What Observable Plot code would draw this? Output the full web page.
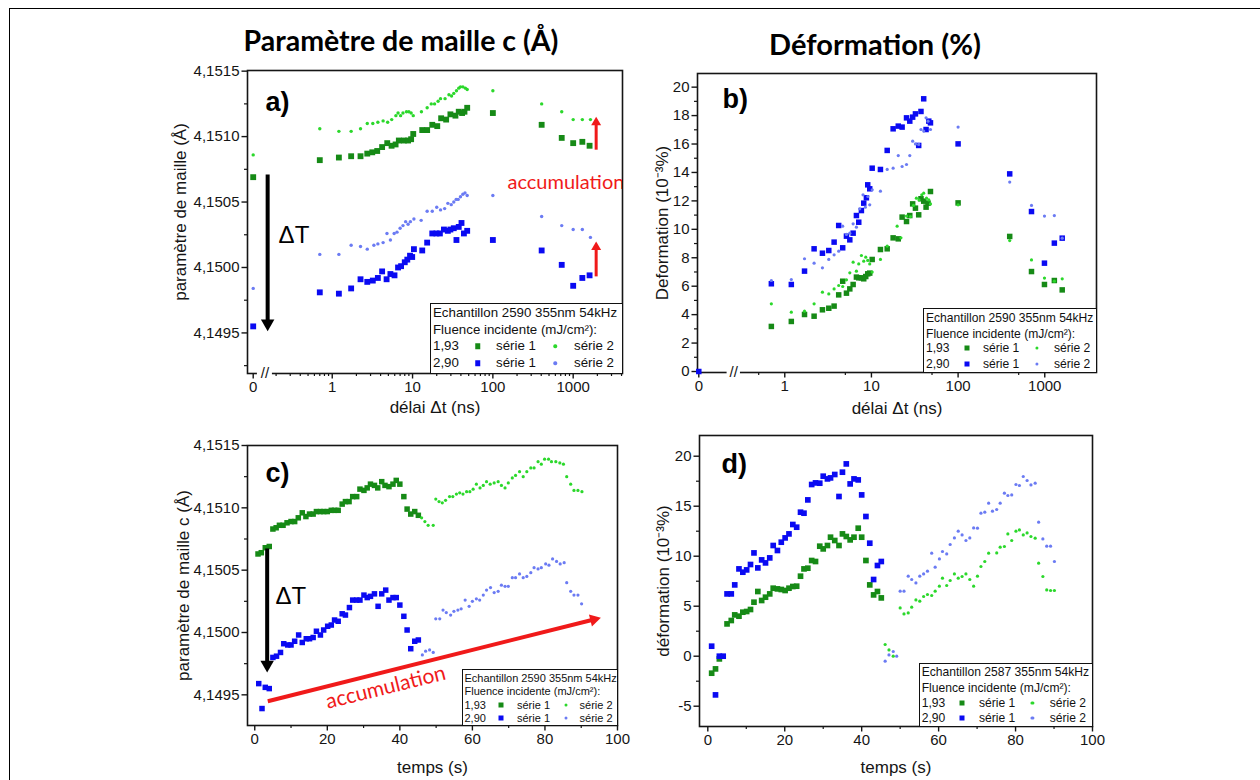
<!DOCTYPE html>
<html><head><meta charset="utf-8">
<script src="https://cdn.jsdelivr.net/npm/d3@7"></script>
<script src="https://cdn.jsdelivr.net/npm/@observablehq/plot@0.6"></script>
<style>
body{margin:0;background:#fff;}
#root{position:relative;width:1260px;height:780px;overflow:hidden;background:#fff;font-family:"Liberation Sans",Arial,sans-serif;}
.title{position:absolute;font-family:Lato,"Open Sans",sans-serif;font-weight:bold;color:#000;white-space:nowrap;transform:translate(-50%,-50%);line-height:1;}
.legend{position:absolute;background:#fff;border:1px solid #111;box-sizing:border-box;color:#111;}
.legend span{position:absolute;white-space:nowrap;transform:translateY(-50%);line-height:1;}
.legend i{position:absolute;transform:translate(-50%,-50%);display:block;}
</style></head>
<body><div id="root"></div>
<script>
// ---------------- texts ----------------
const titleLeft = "Paramètre de maille c (Å)";
const titleRight = "Déformation (%)";
const sampleABC = "Echantillon 2590 355nm 54kHz";
const sampleD = "Echantillon 2587 355nm 54kHz";
const legendSub = "Fluence incidente (mJ/cm²):";
const fluences = ["1,93", "2,90"];
const seriesNames = ["série 1", "série 2"];

// ---------------- panel a : c vs delay (ns) ----------------
const aG1Delay = [0,0.70,1.21,1.72,2.25,2.73,3.15,3.63,4.18,4.84,5.48,6.15,6.75,7.8,8.8,9.6,10.2,13.2,15.2,17.6,20.3,22.7,26.2,29.6,34.2,37.6,41.4,44.3,47.9,100,405,720,1000,1300,1600];
const aG1C = [4.15069,4.15082,4.15084,4.15085,4.15085,4.15087,4.15088,4.15089,4.15092,4.15095,4.15093,4.15094,4.15097,4.15097,4.15097,4.15098,4.15102,4.15105,4.15105,4.15109,4.15108,4.15114,4.15113,4.15117,4.15116,4.15119,4.15118,4.15119,4.15122,4.15118,4.15109,4.15099,4.15095,4.15096,4.15093];
const aG2Delay = [0,0.70,1.21,1.72,2.25,2.73,3.2,3.7,4.3,4.9,5.5,6.2,6.6,7.1,7.6,8.4,9.0,9.6,10.2,12.9,15.2,17.1,18.8,20.8,22.3,25.4,28.4,30.6,32.6,35.2,37.6,39.5,42.3,45.5,47.9,100,405,720,1000,1300,1640];
const aG2C = [4.15086,4.15106,4.15104,4.15104,4.15106,4.15110,4.15110,4.15111,4.15112,4.15111,4.15113,4.15116,4.15118,4.15116,4.15118,4.15119,4.15119,4.15118,4.15116,4.15119,4.15122,4.15125,4.15125,4.15127,4.15129,4.15129,4.15132,4.15131,4.15133,4.15135,4.15137,4.15138,4.15138,4.15137,4.15136,4.15135,4.15125,4.15119,4.15113,4.15113,4.15113];
const aB1Delay = [0,0.70,1.21,1.72,2.25,2.73,3.2,3.7,4.18,4.75,5.3,5.96,6.6,7.2,8.0,8.6,9.3,9.9,10.4,13.2,15.2,17.6,19.8,21.9,24.6,27.5,29.6,32.6,35.2,37.6,40.7,43.6,47.9,100,405,720,1000,1300,1600];
const aB1C = [4.14955,4.14981,4.14980,4.14984,4.14991,4.14989,4.14990,4.14992,4.14997,4.14991,4.14995,4.14994,4.15000,4.15001,4.15004,4.15006,4.15009,4.15008,4.15014,4.15013,4.15019,4.15026,4.15026,4.15026,4.15029,4.15028,4.15029,4.15030,4.15021,4.15031,4.15034,4.15026,4.15028,4.15021,4.15013,4.15002,4.14986,4.14992,4.14994];
const aB2Delay = [0,0.70,1.21,1.72,2.25,2.73,3.3,3.7,4.3,4.8,5.3,5.9,6.4,7.0,7.6,8.2,8.8,9.4,10.4,12.8,15.2,17.6,20.0,22.3,25.1,27.5,30.3,32.6,34.9,37.0,39.5,42.3,45,47.9,100,405,720,1000,1300,1640];
const aB2C = [4.14984,4.15010,4.15010,4.15017,4.15016,4.15014,4.15017,4.15018,4.15019,4.15026,4.15021,4.15026,4.15027,4.15030,4.15032,4.15035,4.15033,4.15035,4.15037,4.15036,4.15043,4.15043,4.15046,4.15044,4.15045,4.15049,4.15048,4.15050,4.15052,4.15052,4.15054,4.15056,4.15057,4.15055,4.15055,4.15039,4.15032,4.15029,4.15029,4.15023];

// ---------------- panel b : strain vs delay ----------------
const bB1Delay = [0,0.70,1.19,1.69,2.18,2.72,3.22,3.71,4.19,4.66,5.15,5.63,6.15,6.71,7.14,7.66,8.15,8.75,9.06,9.56,10.2,12.7,15.2,17.8,20.4,22.6,25.4,27.7,29.9,32.2,35.1,37.3,40.1,42.7,45.9,48.0,100,394,703,992,1290,1590];
const bB1 = [0,6.17,6.12,7.06,8.63,8.32,8.51,9.10,10.27,8.70,9.52,9.26,9.73,10.97,10.50,11.32,11.84,12.22,13.13,12.85,14.30,14.21,15.55,17.07,17.26,17.19,17.84,17.61,17.89,18.12,15.90,18.29,19.18,17.02,17.61,17.49,16.01,13.90,11.25,7.62,9.03,9.38];
const bB2Delay = [0.70,1.19,1.69,2.18,2.72,3.22,3.71,4.19,4.66,5.15,5.63,6.15,6.71,7.33,8.0,8.5,9.1,9.56,10.2,12.7,15.2,17.8,20.4,22.6,25.4,27.7,29.9,32.2,35.1,37.3,40.1,42.7,45,48.0,100,394,703,992,1290,1590];
const bB2 = [6.40,6.47,7.93,7.62,7.29,7.88,8.21,8.46,10.22,9.64,9.73,10.39,10.15,11.44,12.43,11.56,12.31,11.72,12.78,12.68,14.21,14.30,15.19,14.42,14.56,15.19,16.20,16.01,15.97,17.02,16.91,17.84,17.61,17.02,17.19,13.32,11.68,10.93,10.97,9.38];
const bG1Delay = [0.70,1.19,1.69,2.18,2.72,3.22,3.71,4.19,4.66,5.15,5.63,6.15,6.71,7.14,7.66,8.15,8.6,9.06,9.56,10.2,12.7,15.2,17.8,20.4,22.6,25.4,27.7,29.9,32.2,35.1,37.3,40.1,42.7,45,48.0,100,394,703,992,1290,1590];
const bG1 = [3.17,3.52,4.01,3.89,4.34,4.45,4.60,5.39,6.35,5.51,5.81,6.12,6.64,6.59,6.59,6.52,6.68,6.87,6.92,7.88,8.58,8.63,9.40,9.33,10.86,10.55,10.97,11.79,11.49,11.02,12.15,11.98,11.56,11.84,12.66,11.86,9.50,7.03,6.12,6.40,5.74];
const bG2Delay = [0.70,1.19,1.69,2.18,2.72,3.22,3.71,4.19,4.66,5.15,5.63,6.15,6.71,7.14,7.66,8.15,8.6,9.06,9.56,10.2,12.7,15.2,19.8,21.9,25.4,28.2,30.6,33,35.4,38.1,40.1,43.2,45.9,48,100,394,703,992,1290,1590];
const bG2 = [4.76,4.17,4.24,4.76,5.58,5.46,5.81,6.05,5.98,6.45,6.94,7.69,7.06,7.57,8.16,7.76,8.04,7.81,7.57,6.99,7.88,8.82,10.22,9.40,10.93,10.90,11.68,12.19,12.07,12.43,12.54,12.19,12.07,11.79,11.72,9.21,7.85,6.57,6.35,6.52];

// ---------------- panel c : c vs time (s) ----------------
const cG1Time = [0.9,1.8,2.9,4.0,5.0,5.9,6.8,7.8,8.9,10.0,11.0,12.0,13.1,14.1,15.1,16.1,17.0,18.1,19.0,20.0,21.1,22.0,23.0,24.1,25.0,26.0,27.0,28.1,29.0,30.1,31.0,31.9,33.0,33.9,35.0,35.9,37.0,38.1,39.0,40.0,41.1,42.0,43.0,44.1,45.1];
const cG1C = [4.15063,4.15064,4.15068,4.15069,4.15083,4.15084,4.15086,4.15086,4.15088,4.15089,4.15089,4.15092,4.15096,4.15093,4.15095,4.15095,4.15097,4.15097,4.15097,4.15097,4.15098,4.15098,4.15098,4.15103,4.15105,4.15105,4.15109,4.15109,4.15115,4.15114,4.15116,4.15119,4.15118,4.15116,4.15121,4.15118,4.15117,4.15119,4.15122,4.15119,4.15109,4.15099,4.15095,4.15097,4.15094];
const cG2Time = [46.0,46.9,47.8,49.2,49.9,50.8,51.7,52.6,53.7,54.6,55.6,56.5,57.4,58.4,59.3,60.2,61.1,62.1,63.0,63.9,64.9,66.0,67.1,68.0,69.0,69.9,71.0,71.9,73.0,74.0,75.0,76.1,77.0,78.1,79.0,79.9,81.0,81.8,83.0,84.1,85.1,86.0,87.1,88.0,89.1,90.2];
const cG2C = [4.15092,4.15089,4.15086,4.15086,4.15107,4.15105,4.15104,4.15106,4.15109,4.15109,4.15111,4.15112,4.15111,4.15113,4.15113,4.15115,4.15119,4.15116,4.15118,4.15121,4.15119,4.15120,4.15121,4.15118,4.15116,4.15120,4.15124,4.15126,4.15129,4.15125,4.15129,4.15132,4.15132,4.15137,4.15135,4.15139,4.15139,4.15137,4.15137,4.15136,4.15135,4.15125,4.15119,4.15114,4.15114,4.15113];
const cB1Time = [1.1,2.0,2.9,4.0,5.0,6.0,7.1,8.0,9.1,10.0,11.0,12.1,13.1,14.2,15.1,16.1,17.0,18.1,19.0,20.1,21.1,22.0,23.0,24.1,25.0,26.1,27.0,28.1,29.0,30.1,31.0,31.9,33.0,34.0,35.0,36.1,37.0,38.1,39.0,40.0,41.1,42.0,43.0,44.1,45.1];
const cB1C = [4.14959,4.14939,4.14956,4.14955,4.14980,4.14981,4.14984,4.14991,4.14990,4.14990,4.14993,4.14998,4.14992,4.14995,4.14995,4.14996,4.15001,4.14998,4.15002,4.15005,4.15006,4.15010,4.15009,4.15015,4.15014,4.15020,4.15026,4.15026,4.15026,4.15030,4.15028,4.15029,4.15031,4.15021,4.15031,4.15034,4.15026,4.15028,4.15028,4.15022,4.15013,4.15002,4.14987,4.14993,4.14994];
const cB2Time = [46.2,47.1,48.2,49.2,49.9,51.0,51.9,52.8,54.0,54.9,56.0,56.9,58.0,59.1,60.0,61.1,62.0,63.0,63.9,65.0,66.0,67.1,68.0,69.0,69.9,71.0,71.9,73.0,74.0,75.0,76.1,77.0,78.1,79.0,80.2,81.1,82.1,83.2,84.2,85.3,86.0,87.1,88.0,89.1,90.1];
const cB2C = [4.14982,4.14985,4.14986,4.14984,4.15011,4.15011,4.15018,4.15016,4.15014,4.15017,4.15018,4.15019,4.15026,4.15021,4.15025,4.15027,4.15026,4.15030,4.15034,4.15036,4.15032,4.15033,4.15038,4.15037,4.15037,4.15044,4.15044,4.15047,4.15044,4.15045,4.15048,4.15052,4.15051,4.15052,4.15055,4.15054,4.15059,4.15057,4.15055,4.15056,4.15040,4.15033,4.15030,4.15030,4.15023];

// ---------------- panel d : strain vs time ----------------
const dB1Time = [1.0,2.0,3.0,4.0,5.0,6.1,7.0,8.1,9.1,10.1,11.1,12.0,13.0,14.0,15.0,16.1,17.0,18.1,19.1,20.1,21.1,22.1,23.1,24.1,25.0,26.0,27.0,28.0,29.1,30.0,31.1,31.9,33.0,34.1,35.0,36.0,37.0,38.0,39.1,40.0,41.1,42.1,43.1,44.1,45.1];
const dB1 = [1.0,-3.87,0.0,0.0,6.23,6.23,7.13,8.73,8.4,8.63,9.17,10.33,8.83,9.63,9.33,9.83,11.07,10.57,11.4,11.83,12.23,13.17,12.9,14.4,14.3,15.63,17.17,17.33,17.3,18.0,17.73,17.83,18.17,15.97,18.4,19.23,17.23,17.73,17.63,16.13,13.97,11.3,7.67,9.07,9.47];
const dG1Time = [1.0,2.0,3.0,5.0,6.1,7.0,8.1,9.1,10.1,11.1,12.0,13.0,14.0,15.0,16.1,17.0,18.1,19.1,20.1,21.1,22.1,23.1,24.1,25.0,26.0,27.0,28.0,29.1,30.0,31.1,31.9,33.0,34.1,35.0,36.0,37.0,38.0,39.1,40.0,41.1,42.1,43.1,44.1,45.1];
const dG1 = [-1.7,-1.27,-0.27,3.23,3.57,4.13,4.0,4.4,4.47,4.67,5.4,6.47,5.57,5.9,6.23,6.8,6.73,6.67,6.57,6.8,6.97,7.0,8.0,8.73,8.8,9.57,9.47,11.0,10.73,11.07,11.9,11.57,11.07,12.23,11.97,11.63,11.9,12.8,11.9,9.57,7.13,6.13,6.47,5.83];
const dG2Time = [46.1,47.1,48.2,50.0,51.0,52.1,53.0,54.1,55.1,56.1,57.1,58.2,59.1,60.2,61.0,62.1,63.0,64.1,65.1,66.1,67.1,68.1,69.1,70.1,71.0,72.0,73.0,75.1,76.0,77.1,78.0,79.0,80.1,81.0,82.0,83.0,84.0,85.1,86.0,87.1,88.1,89.1,90.1];
const dG2 = [1.17,0.63,0.0,4.83,4.23,4.33,4.9,5.63,5.5,5.97,6.17,6.07,6.5,7.0,7.8,7.07,7.57,8.23,7.8,7.97,8.23,7.67,7.0,8.0,8.97,9.47,10.3,10.33,10.9,10.97,12.23,11.57,12.5,12.63,12.13,12.33,11.97,11.8,9.3,7.97,6.63,6.57,6.57];
const dB2Time = [46.1,47.1,48.2,49.1,50.0,51.0,52.1,53.0,54.1,55.1,56.1,57.1,58.2,59.1,60.2,61.0,62.1,63.0,64.1,65.1,66.1,67.1,68.1,69.1,70.1,71.0,72.0,73.0,74.0,75.1,76.0,77.1,78.0,79.0,80.1,81.0,82.0,83.0,84.0,85.1,86.0,87.1,88.1,89.1,90.1];
const dB2 = [-0.5,0.13,0.47,0.0,6.5,6.5,8.0,7.67,7.33,8.0,8.23,8.5,10.3,8.9,9.73,10.47,10.23,11.17,11.83,12.5,12.13,11.57,11.83,12.83,12.8,14.3,14.4,15.3,14.5,14.67,15.3,16.3,16.07,16.13,17.17,17.07,17.97,17.57,17.13,17.3,13.4,11.73,11.0,11.0,9.47];

// ---------------- ticks ----------------
const delayTicks = [0, 1, 10, 100, 1000];
const delayTickLabels = ["0", "1", "10", "100", "1000"];
const aDelayMinor = [0.2,0.3,0.4,0.5,0.6,0.7,0.8,0.9,2,3,4,5,6,7,8,9,20,30,40,50,60,70,80,90,200,300,400,500,600,700,800,900,2000,3000,4000];
const bDelayMinor = [0.5, 5, 50, 500];
const cTicks = [4.1495, 4.1500, 4.1505, 4.1510, 4.1515];
const cMinorA = [4.14925, 4.14975, 4.15025, 4.15075, 4.15125];
const cMinorC = [4.14975, 4.15025, 4.15075, 4.15125];
const bTicks = [0,2,4,6,8,10,12,14,16,18,20];
const bMinor = [1,3,5,7,9,11,13,15,17,19];
const dTicks = [-5,0,5,10,15,20];
const dMinor = [-2.5,2.5,7.5,12.5,17.5];
const timeTicks = [0,20,40,60,80,100];
const timeMinor = [10,30,50,70,90];

// ---------------- annotations (data units) ----------------
const aDeltaArrow = [{delay: 0.157, from: 4.15071, to: 4.149572}];
const aAccArrows = [{delay: 1932, from: 4.15090, to: 4.151108}, {delay: 1932, from: 4.149932, to: 4.150155}];
const aDeltaText = [{delay: 0.215, c: 4.150245}];
const aAccText = [{delay: 152, c: 4.150652}];
const cDeltaArrow = [{t: 3.42, from: 4.150674, to: 4.149742}];
const cDeltaText = [{t: 5.7, c: 4.150289}];
const cAccArrow = [{t1: 3.59, c1: 4.149449, t2: 93.5, c2: 4.150104}];
const cAccText = [{t: 36.1, c: 4.149559}];

// ---------------- style ----------------
const COL = {g1: "#168a16", g2: "#2bd82b", b1: "#0a0af2", b2: "#6b7bf3"};
const RED = "#f01a1a";
const INK = "#151515";
const FONT = '"Liberation Sans", Arial, sans-serif';
const root = document.getElementById("root");
const zip = (xs, ys) => xs.map((x, i) => ({x, y: ys[i]}));

// broken log axis: 0 shown left of the break
const posA = d => d === 0 ? -0.984 : Math.log10(d);
const posB = d => d === 0 ? -0.992 : Math.log10(d);
const cFmt = d => d.toFixed(4).replace(".", ",");

// page frame + titles
const fr = document.createElement("div");
Object.assign(fr.style, {position: "absolute", left: "9px", top: "8px", width: "1400px", height: "900px", borderLeft: "1.5px solid #000", borderTop: "1.5px solid #000"});
root.appendChild(fr);
function addTitle(txt, cx, cy, fs) {
  const t = document.createElement("div");
  t.className = "title"; t.textContent = txt;
  Object.assign(t.style, {left: cx + "px", top: cy + "px", fontSize: fs + "px"});
  root.appendChild(t);
}
addTitle(titleLeft, 401, 40, 28.5);
addTitle(titleRight, 875, 43, 29);

function seriesMarks(xf, list) {
  return list.map(s => Plot.dot(s.data, {
    x: d => xf(d.x), y: "y", symbol: s.sq ? "square" : "circle", r: s.r, fill: s.color
  }));
}

function addPanel(p) {
  const [L, T, R, B] = p.frame;
  const mL = 110, mT = 16, mR = 16, mB = 60;
  const W = R - L, H = B - T;
  const [x0, x1] = p.xDomain, [y0, y1] = p.yDomain;
  const xpp = (x1 - x0) / W, ypp = (y1 - y0) / H;
  const xLab = new Map(p.xTicks.map((t, i) => [t, p.xTickLabels[i]]));
  const marks = [
    Plot.ruleX(p.xMinor, {x: d => d, y1: () => y0, y2: () => y0 - 3 * ypp, stroke: INK, strokeWidth: 1.2}),
    Plot.ruleX(p.xTicks, {x: d => d, y1: () => y0, y2: () => y0 - 5.5 * ypp, stroke: INK, strokeWidth: 1.4}),
    Plot.ruleY(p.yMinor, {y: d => d, x1: () => x0, x2: () => x0 - 3 * xpp, stroke: INK, strokeWidth: 1.2}),
    Plot.ruleY(p.yTicks, {y: d => d, x1: () => x0, x2: () => x0 - 5.5 * xpp, stroke: INK, strokeWidth: 1.4}),
    Plot.frame({stroke: INK, strokeWidth: 1.6})
  ];
  if (p.brk) {
    marks.push(Plot.ruleY([{y: y0, a: p.brk[0], b: p.brk[1]}], {y: "y", x1: "a", x2: "b", stroke: "white", strokeWidth: 5}));
    marks.push(Plot.text([{x: (p.brk[0] + p.brk[1]) / 2, y: y0, t: "//"}], {x: "x", y: "y", text: "t", fontSize: 15, fill: INK, lineAnchor: "middle"}));
  }
  marks.push(...p.marks);
  marks.push(Plot.text([p.xLabel], {frameAnchor: "bottom", dy: p.xLabelDy, text: d => d, fontSize: 17, fill: INK, textAnchor: "middle", lineAnchor: "middle"}));
  marks.push(Plot.text([p.yLabel], {frameAnchor: "left", dx: p.yLabelDx, dy: p.yLabelDy || 0, rotate: -90, text: d => d, fontSize: 17, fill: INK, textAnchor: "middle", lineAnchor: "middle"}));
  marks.push(Plot.text([p.tag], {frameAnchor: "top-left", dx: p.tagDx, dy: p.tagDy, text: d => d, fontSize: 27, fontWeight: "bold", fill: "#000", textAnchor: "start", lineAnchor: "middle"}));
  const svg = Plot.plot({
    width: W + mL + mR, height: H + mT + mB,
    marginLeft: mL, marginRight: mR, marginTop: mT, marginBottom: mB,
    style: {background: "none", fontFamily: FONT, fontSize: "15px", color: INK, overflow: "visible"},
    x: {domain: p.xDomain, ticks: p.xTicks, tickFormat: t => xLab.has(t) ? xLab.get(t) : "", tickSize: 0, tickPadding: 8, label: null},
    y: {domain: p.yDomain, ticks: p.yTicks, tickFormat: p.yFmt, tickSize: 0, tickPadding: 8, label: null},
    marks
  });
  svg.style.position = "absolute";
  svg.style.left = (L - mL) + "px";
  svg.style.top = (T - mT) + "px";
  root.appendChild(svg);
}

function addLegend(l) {
  const box = document.createElement("div");
  box.className = "legend";
  Object.assign(box.style, {left: l.left + "px", top: l.top + "px", width: l.w + "px", height: l.h + "px", fontSize: l.fs + "px"});
  const span = (txt, x, y) => {
    const s = document.createElement("span");
    s.textContent = txt; s.style.left = x + "px"; s.style.top = y + "px";
    box.appendChild(s);
  };
  const mark = (x, y, c, size, round) => {
    const m = document.createElement("i");
    Object.assign(m.style, {left: x + "px", top: y + "px", width: size + "px", height: size + "px", background: c, borderRadius: round ? "50%" : "0"});
    box.appendChild(m);
  };
  span(l.title, l.cols[0], l.rows[0]);
  span(legendSub, l.cols[0], l.rows[1]);
  [[COL.g1, COL.g2], [COL.b1, COL.b2]].forEach(([c1, c2], k) => {
    const y = l.rows[2 + k];
    span(fluences[k], l.cols[0], y);
    mark(l.cols[1], y, c1, l.sq, false);
    span(seriesNames[0], l.cols[2], y);
    mark(l.cols[3], y, c2, l.dot, true);
    span(seriesNames[1], l.cols[4], y);
  });
  root.appendChild(box);
}

// ---------- panel a ----------
addPanel({
  frame: [247, 70, 622, 373],
  xDomain: [-1.055, 3.614], yDomain: [4.14919, 4.151505],
  xTicks: delayTicks.map(posA), xTickLabels: delayTickLabels, xMinor: aDelayMinor.map(posA),
  yTicks: cTicks, yFmt: cFmt, yMinor: cMinorA,
  brk: [posA(0.117), posA(0.18)],
  xLabel: "délai Δt (ns)", xLabelDy: 34,
  yLabel: "paramètre de maille (Å)", yLabelDx: -67, yLabelDy: -10,
  tag: "a)", tagDx: 18, tagDy: 32,
  marks: [
    ...seriesMarks(posA, [
      {data: zip(aG1Delay, aG1C), sq: true, r: 3.3, color: COL.g1},
      {data: zip(aG2Delay, aG2C), sq: false, r: 1.7, color: COL.g2},
      {data: zip(aB1Delay, aB1C), sq: true, r: 3.3, color: COL.b1},
      {data: zip(aB2Delay, aB2C), sq: false, r: 1.7, color: COL.b2}
    ]),
    Plot.link(aDeltaArrow, {x1: d => posA(d.delay), x2: d => posA(d.delay), y1: "from", y2: "to", stroke: "#000", strokeWidth: 4}),
    Plot.dot(aDeltaArrow, {x: d => posA(d.delay), y: "to", symbol: "triangle", r: 5, fill: "#000", rotate: 180}),
    Plot.link(aAccArrows, {x1: d => posA(d.delay), x2: d => posA(d.delay), y1: "from", y2: "to", stroke: RED, strokeWidth: 3}),
    Plot.dot(aAccArrows, {x: d => posA(d.delay), y: "to", symbol: "triangle", r: 3.7, fill: RED}),
    Plot.text(aDeltaText, {x: d => posA(d.delay), y: "c", text: () => "ΔT", fontSize: 24, fill: "#000", textAnchor: "start", lineAnchor: "middle"}),
    Plot.text(aAccText, {x: d => posA(d.delay), y: "c", text: () => "accumulation", fontSize: 20, fontFamily: 'Lato, "Open Sans", sans-serif', fill: RED, textAnchor: "start", lineAnchor: "middle", clip: true})
  ]
});
addLegend({left: 430, top: 303, w: 193, h: 71, fs: 13.3, title: sampleABC, rows: [9, 25.5, 42, 59], cols: [2, 46.7, 65, 124, 143], sq: 5.5, dot: 3.5});

// ---------- panel b ----------
addPanel({
  frame: [697, 73, 1096, 372],
  xDomain: [-1.007, 3.597], yDomain: [-0.07, 20.96],
  xTicks: delayTicks.map(posB), xTickLabels: delayTickLabels, xMinor: bDelayMinor.map(posB),
  yTicks: bTicks, yFmt: d => String(d), yMinor: bMinor,
  brk: [posB(0.216), posB(0.308)],
  xLabel: "délai Δt (ns)", xLabelDy: 36,
  yLabel: "Deformation (10⁻³%)", yLabelDx: -35,
  tag: "b)", tagDx: 25, tagDy: 26,
  marks: seriesMarks(posB, [
    {data: zip(bG1Delay, bG1), sq: true, r: 3.1, color: COL.g1},
    {data: zip(bG2Delay, bG2), sq: false, r: 1.6, color: COL.g2},
    {data: zip(bB1Delay, bB1), sq: true, r: 3.1, color: COL.b1},
    {data: zip(bB2Delay, bB2), sq: false, r: 1.6, color: COL.b2}
  ])
});
addLegend({left: 923, top: 308, w: 174, h: 65, fs: 12.1, title: sampleABC, rows: [9.3, 24.7, 39.3, 54.7], cols: [2, 43, 59, 113, 130], sq: 5, dot: 3.2});

// ---------- panel c ----------
const idT = d => d;
addPanel({
  frame: [247, 445, 617, 725],
  xDomain: [-2.0, 100], yDomain: [4.149254, 4.1515],
  xTicks: timeTicks, xTickLabels: timeTicks.map(String), xMinor: timeMinor,
  yTicks: cTicks, yFmt: cFmt, yMinor: cMinorC,
  xLabel: "temps (s)", xLabelDy: 41.7,
  yLabel: "paramètre de maille c (Å)", yLabelDx: -64,
  tag: "c)", tagDx: 18, tagDy: 28,
  marks: [
    ...seriesMarks(idT, [
      {data: zip(cG1Time, cG1C), sq: true, r: 3.1, color: COL.g1},
      {data: zip(cG2Time, cG2C), sq: false, r: 1.6, color: COL.g2},
      {data: zip(cB1Time, cB1C), sq: true, r: 3.1, color: COL.b1},
      {data: zip(cB2Time, cB2C), sq: false, r: 1.6, color: COL.b2}
    ]),
    Plot.link(cDeltaArrow, {x1: "t", x2: "t", y1: "from", y2: "to", stroke: "#000", strokeWidth: 4}),
    Plot.dot(cDeltaArrow, {x: "t", y: "to", symbol: "triangle", r: 5, fill: "#000", rotate: 180}),
    Plot.text(cDeltaText, {x: "t", y: "c", text: () => "ΔT", fontSize: 24, fill: "#000", textAnchor: "start", lineAnchor: "middle"}),
    Plot.link(cAccArrow, {x1: "t1", y1: "c1", x2: "t2", y2: "c2", stroke: RED, strokeWidth: 4}),
    Plot.dot(cAccArrow, {x: "t2", y: "c2", symbol: "triangle", r: 4.6, fill: RED, rotate: 76}),
    Plot.text(cAccText, {x: "t", y: "c", text: () => "accumulation", fontSize: 21, fontFamily: 'Lato, "Open Sans", sans-serif', fill: RED, rotate: -14, lineAnchor: "middle"})
  ]
});
addLegend({left: 462, top: 669, w: 156, h: 57, fs: 11, title: sampleABC, rows: [7.6, 20.9, 34.9, 48.2], cols: [1.5, 38.3, 54, 102.6, 116.6], sq: 5, dot: 3});

// ---------- panel d ----------
addPanel({
  frame: [699, 435, 1092, 726],
  xDomain: [-2.16, 100], yDomain: [-7.03, 22.07],
  xTicks: timeTicks, xTickLabels: timeTicks.map(String), xMinor: timeMinor,
  yTicks: dTicks, yFmt: d => String(d), yMinor: dMinor,
  xLabel: "temps (s)", xLabelDy: 40.7,
  yLabel: "déformation (10⁻³%)", yLabelDx: -35.5,
  tag: "d)", tagDx: 22, tagDy: 29,
  marks: seriesMarks(idT, [
    {data: zip(dG1Time, dG1), sq: true, r: 3.2, color: COL.g1},
    {data: zip(dG2Time, dG2), sq: false, r: 1.6, color: COL.g2},
    {data: zip(dB1Time, dB1), sq: true, r: 3.2, color: COL.b1},
    {data: zip(dB2Time, dB2), sq: false, r: 1.6, color: COL.b2}
  ])
});
addLegend({left: 919, top: 663, w: 174, h: 64, fs: 12.1, title: sampleD, rows: [7.6, 23.6, 38.6, 53.6], cols: [1.7, 42.4, 59, 112.4, 129.7], sq: 5, dot: 3.2});
</script></body></html>
